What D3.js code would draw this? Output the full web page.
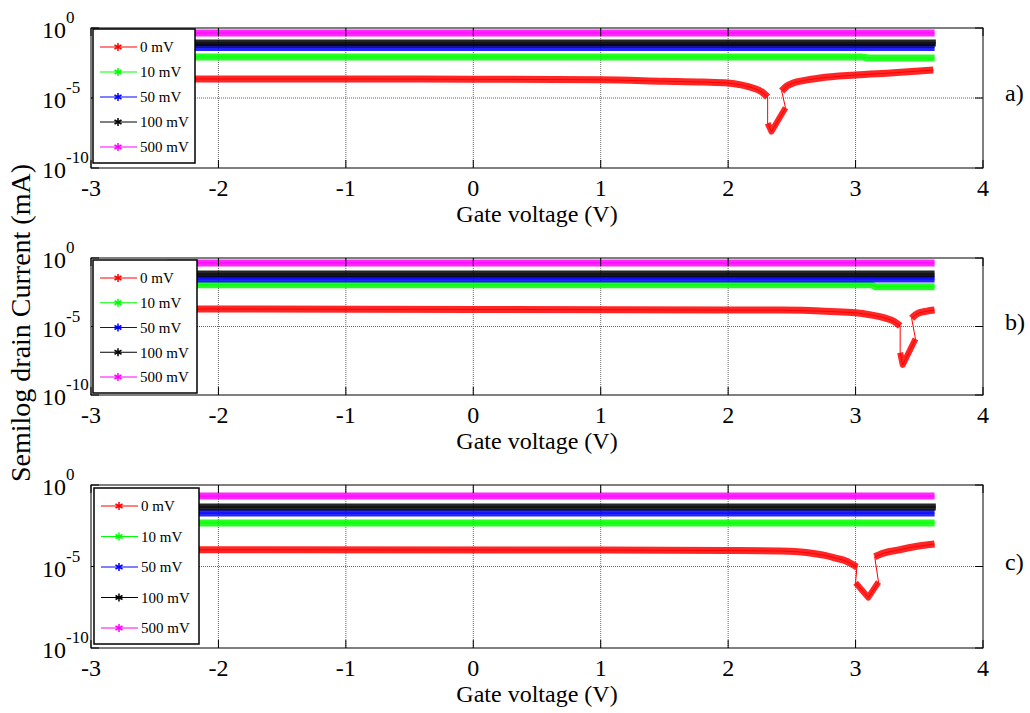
<!DOCTYPE html>
<html>
<head>
<meta charset="utf-8">
<script src="https://cdn.jsdelivr.net/npm/d3@7"></script>
<style>
  body { margin: 0; background: #fff; }
  text { font-family: "Liberation Serif", "Times New Roman", serif; fill: #000; }
</style>
</head>
<body>
<script>
// drain current, stored as log10(I / mA), points are [gate V, exponent]
// each series is a list of dense runs; the gaps between runs are the thin jumps
const seriesNames = ["0 mV", "10 mV", "50 mV", "100 mV", "500 mV"];
const seriesColors = ["#ff0000", "#00ff00", "#0000ff", "#000000", "#ff00ff"];
const xTicks = [-3, -2, -1, 0, 1, 2, 3, 4];
const yTicks = [1e-10, 1e-5, 1];
const yTickExp = { 1e-10: "-10", 1e-5: "-5", 1: "0" };
const panelLabels = ["a)", "b)", "c)"];

// panel a
const redA = [
  [[-2.4, -3.64], [-1, -3.64], [0, -3.66], [1, -3.7], [1.5, -3.8], [1.8, -3.86], [2, -3.93], [2.1, -4.06], [2.2, -4.3], [2.27, -4.6], [2.31, -4.93]],
  [[2.31, -6.8], [2.34, -7.4], [2.45, -5.7]],
  [[2.42, -4.5], [2.46, -4.15], [2.51, -3.93], [2.6, -3.74], [2.72, -3.57], [3, -3.36], [3.3, -3.2], [3.61, -3.0]]
];
const greenA = [[[-2.4, -2.07], [3.05, -2.07], [3.1, -2.14], [3.62, -2.14]]];
const blueA = [[[-2.4, -1.4], [3.62, -1.4]]];
const blackA = [[[-2.4, -1.07], [3.63, -1.07]]];
const magentaA = [[[-2.4, -0.36], [3.62, -0.36]]];

// panel b
const redB = [
  [[-2.4, -3.72], [0, -3.75], [2, -3.8], [2.41, -3.8], [2.8, -3.9], [3, -4.0], [3.1, -4.12], [3.19, -4.28], [3.25, -4.43], [3.3, -4.62], [3.35, -4.96]],
  [[3.35, -6.9], [3.37, -7.8], [3.47, -5.9]],
  [[3.44, -4.4], [3.47, -4.15], [3.5, -4.0], [3.56, -3.88], [3.62, -3.8]]
];
const greenB = [[[-2.4, -1.95], [3.12, -1.95], [3.16, -2.1], [3.62, -2.1]]];
const blueB = [[[-2.4, -1.53], [3.62, -1.53]]];
const blackB = [[[-2.4, -1.17], [3.62, -1.17]]];
const magentaB = [[[-2.4, -0.36], [3.62, -0.36]]];

// panel c
const redC = [
  [[-2.4, -3.97], [1, -3.99], [2, -4.02], [2.41, -4.05], [2.55, -4.1], [2.67, -4.2], [2.76, -4.32], [2.85, -4.5], [2.92, -4.65], [2.96, -4.8], [3.01, -5.03]],
  [[3.0, -6.0], [3.1, -6.9], [3.18, -5.95]],
  [[3.15, -4.4], [3.22, -4.18], [3.33, -4.0], [3.45, -3.8], [3.62, -3.62]]
];
const greenC = [[[-2.4, -2.33], [3.62, -2.33]]];
const blueC = [[[-2.4, -1.72], [3.62, -1.72]]];
const blackC = [[[-2.4, -1.35], [3.63, -1.35]]];
const magentaC = [[[-2.4, -0.68], [3.62, -0.68]]];

const panels = [
  { top: 28, bottom: 168, series: [redA, greenA, blueA, blackA, magentaA], legend: { x: 93, y: 29, w: 102, h: 134 }, labelY: 101 },
  { top: 258, bottom: 395, series: [redB, greenB, blueB, blackB, magentaB], legend: { x: 93, y: 260, w: 104, h: 133 }, labelY: 330 },
  { top: 485, bottom: 648, series: [redC, greenC, blueC, blackC, magentaC], legend: { x: 94, y: 488, w: 105, h: 156 }, labelY: 570 }
];

const width = 1030, height = 713;
const left = 91, right = 983;

const svg = d3.select("body").append("svg")
  .attr("width", width)
  .attr("height", height);

const x = d3.scaleLinear().domain([-3, 4]).range([left, right]);

const star = d3.symbol().type(d3.symbolAsterisk).size(45);

function drawPanel(p, idx) {
  const y = d3.scaleLog().domain([1e-10, 1]).range([p.bottom, p.top]);
  const g = svg.append("g").attr("class", "panel");

  // grid
  g.append("g").selectAll("line")
    .data(xTicks.slice(1, -1))
    .join("line")
    .attr("x1", (d) => x(d)).attr("x2", (d) => x(d))
    .attr("y1", p.top).attr("y2", p.bottom)
    .attr("stroke", "#666")
    .attr("stroke-dasharray", "1,1");
  g.append("line")
    .attr("x1", left).attr("x2", right)
    .attr("y1", y(1e-5)).attr("y2", y(1e-5))
    .attr("stroke", "#666")
    .attr("stroke-dasharray", "1,1");

  const line = d3.line()
    .curve(d3.curveMonotoneX)
    .x((d) => x(d[0]))
    .y((d) => y(Math.pow(10, d[1])));
  const straight = d3.line()
    .x((d) => x(d[0]))
    .y((d) => y(Math.pow(10, d[1])));

  // series, thin connecting line + thick dense runs
  p.series.forEach((runs, i) => {
    const color = seriesColors[i];
    g.append("path")
      .attr("d", straight(runs.flat()))
      .attr("fill", "none")
      .attr("stroke", color)
      .attr("stroke-width", 1);
    runs.forEach((run, j) => {
      const dip = runs.length > 1 && j === 1;
      g.append("path")
        .attr("d", dip ? straight(run) : line(run))
        .attr("fill", "none")
        .attr("stroke", color)
        .attr("stroke-width", dip ? 6 : 7)
        .attr("stroke-linejoin", "round")
        .attr("opacity", 0.85);
    });
  });

  // frame + inward ticks
  g.append("rect")
    .attr("x", left).attr("y", p.top)
    .attr("width", right - left).attr("height", p.bottom - p.top)
    .attr("fill", "none")
    .attr("stroke", "#000");

  const tickLen = 8;
  g.append("g").selectAll("g")
    .data(xTicks)
    .join((enter) => {
      const t = enter.append("g");
      t.append("line")
        .attr("x1", (d) => x(d)).attr("x2", (d) => x(d))
        .attr("y1", p.bottom).attr("y2", p.bottom - tickLen)
        .attr("stroke", "#000");
      t.append("line")
        .attr("x1", (d) => x(d)).attr("x2", (d) => x(d))
        .attr("y1", p.top).attr("y2", p.top + tickLen)
        .attr("stroke", "#000");
      return t;
    });
  g.append("g").selectAll("g")
    .data(yTicks)
    .join((enter) => {
      const t = enter.append("g");
      t.append("line")
        .attr("x1", left).attr("x2", left + tickLen)
        .attr("y1", (d) => y(d)).attr("y2", (d) => y(d))
        .attr("stroke", "#000");
      t.append("line")
        .attr("x1", right).attr("x2", right - tickLen)
        .attr("y1", (d) => y(d)).attr("y2", (d) => y(d))
        .attr("stroke", "#000");
      return t;
    });

  // x tick labels
  g.append("g").selectAll("text")
    .data(xTicks)
    .join("text")
    .attr("x", (d) => x(d))
    .attr("y", p.bottom + 28)
    .attr("text-anchor", "middle")
    .attr("font-size", "24px")
    .text((d) => String(d));

  // y tick labels, 10 with superscript
  const yl = g.append("g").selectAll("text")
    .data(yTicks)
    .join("text")
    .attr("x", 42)
    .attr("y", (d) => y(d) + 10)
    .attr("font-size", "24px");
  yl.append("tspan").text("10");
  yl.append("tspan")
    .attr("font-size", "17px")
    .attr("dy", -15)
    .text((d) => yTickExp[d]);

  // x axis title
  g.append("text")
    .attr("x", (left + right) / 2)
    .attr("y", p.bottom + 54)
    .attr("text-anchor", "middle")
    .attr("font-size", "24px")
    .text("Gate voltage (V)");

  // panel letter
  g.append("text")
    .attr("x", 1005)
    .attr("y", p.labelY)
    .attr("font-size", "24px")
    .text(panelLabels[idx]);

  // legend
  const L = p.legend;
  const lg = g.append("g").attr("transform", `translate(${L.x},${L.y})`);
  lg.append("rect")
    .attr("width", L.w).attr("height", L.h)
    .attr("fill", "#fff")
    .attr("stroke", "#000")
    .attr("stroke-width", 1.5);
  const step = (L.h - 34) / 4;
  const rows = lg.selectAll("g.row")
    .data(seriesNames)
    .join("g")
    .attr("class", "row")
    .attr("transform", (d, i) => `translate(0,${18 + i * step})`);
  rows.append("line")
    .attr("x1", 7).attr("x2", 44)
    .attr("stroke", (d, i) => seriesColors[i]);
  rows.append("path")
    .attr("d", star)
    .attr("transform", "translate(25,0)")
    .attr("fill", "none")
    .attr("stroke", (d, i) => seriesColors[i])
    .attr("stroke-width", 1.5);
  rows.append("text")
    .attr("x", 47)
    .attr("dy", "0.35em")
    .attr("font-size", "15px")
    .text((d) => d);
}

panels.forEach(drawPanel);

// shared y axis label
svg.append("text")
  .attr("transform", "translate(30,323) rotate(-90)")
  .attr("text-anchor", "middle")
  .attr("font-size", "28px")
  .text("Semilog drain Current (mA)");
</script>
</body>
</html>
